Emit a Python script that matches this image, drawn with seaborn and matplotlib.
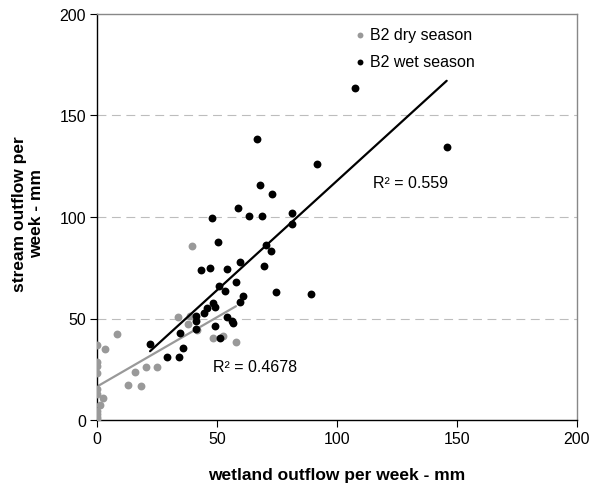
import matplotlib
matplotlib.use("Agg")
import matplotlib.pyplot as plt
import seaborn as sns
import numpy as np
import pandas as pd

sns.set_style("white")
plt.rcParams['font.family'] = ['Liberation Sans', 'DejaVu Sans']
plt.rcParams['text.color'] = 'black'
plt.rcParams['axes.labelcolor'] = 'black'

# ---- data ----
dry_x = [0, 3.3, 8.2, 0, 0, 0, 0, 0, 2.6, 1.3, 0, 0, 0, 0,
         12.8, 18.3, 15.8, 20.4, 25.1, 33.9, 38.8, 38.0, 41.5,
         48.5, 52.6, 57.9, 39.5]
dry_y = [37.0, 35.0, 42.5, 28.5, 26.7, 23.3, 15.5, 13.0, 10.8, 7.4, 4.6, 3.0, 1.3, 0.3,
         17.2, 16.6, 23.8, 26.0, 26.0, 50.5, 51.4, 47.3, 44.5,
         40.5, 41.2, 38.3, 85.7]

wet_x = [22.1, 29.0, 34.2, 36.0, 34.6, 41.1, 41.1, 41.1, 44.7, 45.7, 48.5, 49.2,
         49.2, 51.3, 54.0, 56.4, 56.8, 59.6, 61.0, 50.7, 53.5, 57.8, 74.6, 89.2,
         43.2, 47.0, 54.0, 69.7, 59.4, 70.4, 72.4, 50.3, 48.0, 63.2, 68.6, 81.1,
         81.1, 58.9, 72.9, 67.9, 91.8, 66.7, 107.5, 145.7]
wet_y = [37.4, 30.9, 30.9, 35.5, 42.8, 44.8, 49.0, 51.1, 52.5, 55.3, 57.5, 55.8,
         46.5, 40.5, 50.6, 48.9, 47.6, 58.3, 61.1, 66.2, 63.4, 68.0, 62.9, 62.2,
         73.7, 74.9, 74.4, 75.7, 78.0, 86.4, 83.3, 87.7, 99.7, 100.3, 100.3, 101.8,
         96.6, 104.3, 111.3, 115.8, 126.0, 138.5, 163.5, 134.3]

series_labels = ["B2 dry season", "B2 wet season"]
r2_labels = ["R² = 0.4678", "R² = 0.559"]
ticks = [0, 50, 100, 150, 200]

dry = pd.DataFrame({"x": dry_x, "y": dry_y})
wet = pd.DataFrame({"x": wet_x, "y": wet_y})

fig = plt.figure(figsize=(5.92, 4.89), dpi=100)
ax = fig.add_axes([97/592, 1 - 421/489, 480/592, 406/489])

gray = "#999999"
sns.scatterplot(data=dry, x="x", y="y", ax=ax, color=gray, s=32, linewidth=0,
                label=series_labels[0], zorder=3)
sns.scatterplot(data=wet, x="x", y="y", ax=ax, color="black", s=32, linewidth=0,
                label=series_labels[1], zorder=4)
sns.regplot(data=dry, x="x", y="y", ax=ax, scatter=False, ci=None, truncate=True,
            line_kws=dict(color=gray, lw=1.6, zorder=2))
sns.regplot(data=wet, x="x", y="y", ax=ax, scatter=False, ci=None, truncate=True,
            line_kws=dict(color="black", lw=1.6, zorder=5))

ax.set_xlim(0, 200)
ax.set_ylim(0, 200)
ax.set_xticks(ticks)
ax.set_yticks(ticks)
ax.tick_params(axis="both", which="both", direction="out", length=5, width=0.8,
               labelsize=11.5, pad=3, colors="black", labelcolor="black",
               left=True, bottom=True)

for y in ticks[1:-1]:
    ax.axhline(y, color="#bdbdbd", lw=0.8, ls=(0, (8, 5)), zorder=1)

for s in ["left", "bottom"]:
    ax.spines[s].set_color("black")
    ax.spines[s].set_linewidth(1.0)
for s in ["top", "right"]:
    ax.spines[s].set_color("#888888")
    ax.spines[s].set_linewidth(1.0)
    ax.spines[s].set_visible(True)

ax.set_xlabel("wetland outflow per week - mm", fontsize=12.5, fontweight="bold",
              color="black")
ax.set_ylabel("stream outflow per\nweek - mm", fontsize=12.5, fontweight="bold",
              va="center", multialignment="center", color="black")
ax.xaxis.set_label_coords(0.5, -0.115)
ax.yaxis.set_label_coords((28 - 97) / 480, 0.51)

ax.text(48.5, 26.5, r2_labels[0], fontsize=11.5, va="center", ha="left")
ax.text(115, 117, r2_labels[1], fontsize=11.5, va="center", ha="left")

leg = ax.legend(loc="upper left", bbox_to_anchor=((346 - 97) / 480, 1 - (22 - 15) / 406),
                frameon=False, fontsize=11.5, handletextpad=0.1, markerscale=0.75,
                labelspacing=0.75, borderaxespad=0, handlelength=1.0)
for t in leg.get_texts():
    t.set_color("black")

fig.savefig("out.png", dpi=100)
